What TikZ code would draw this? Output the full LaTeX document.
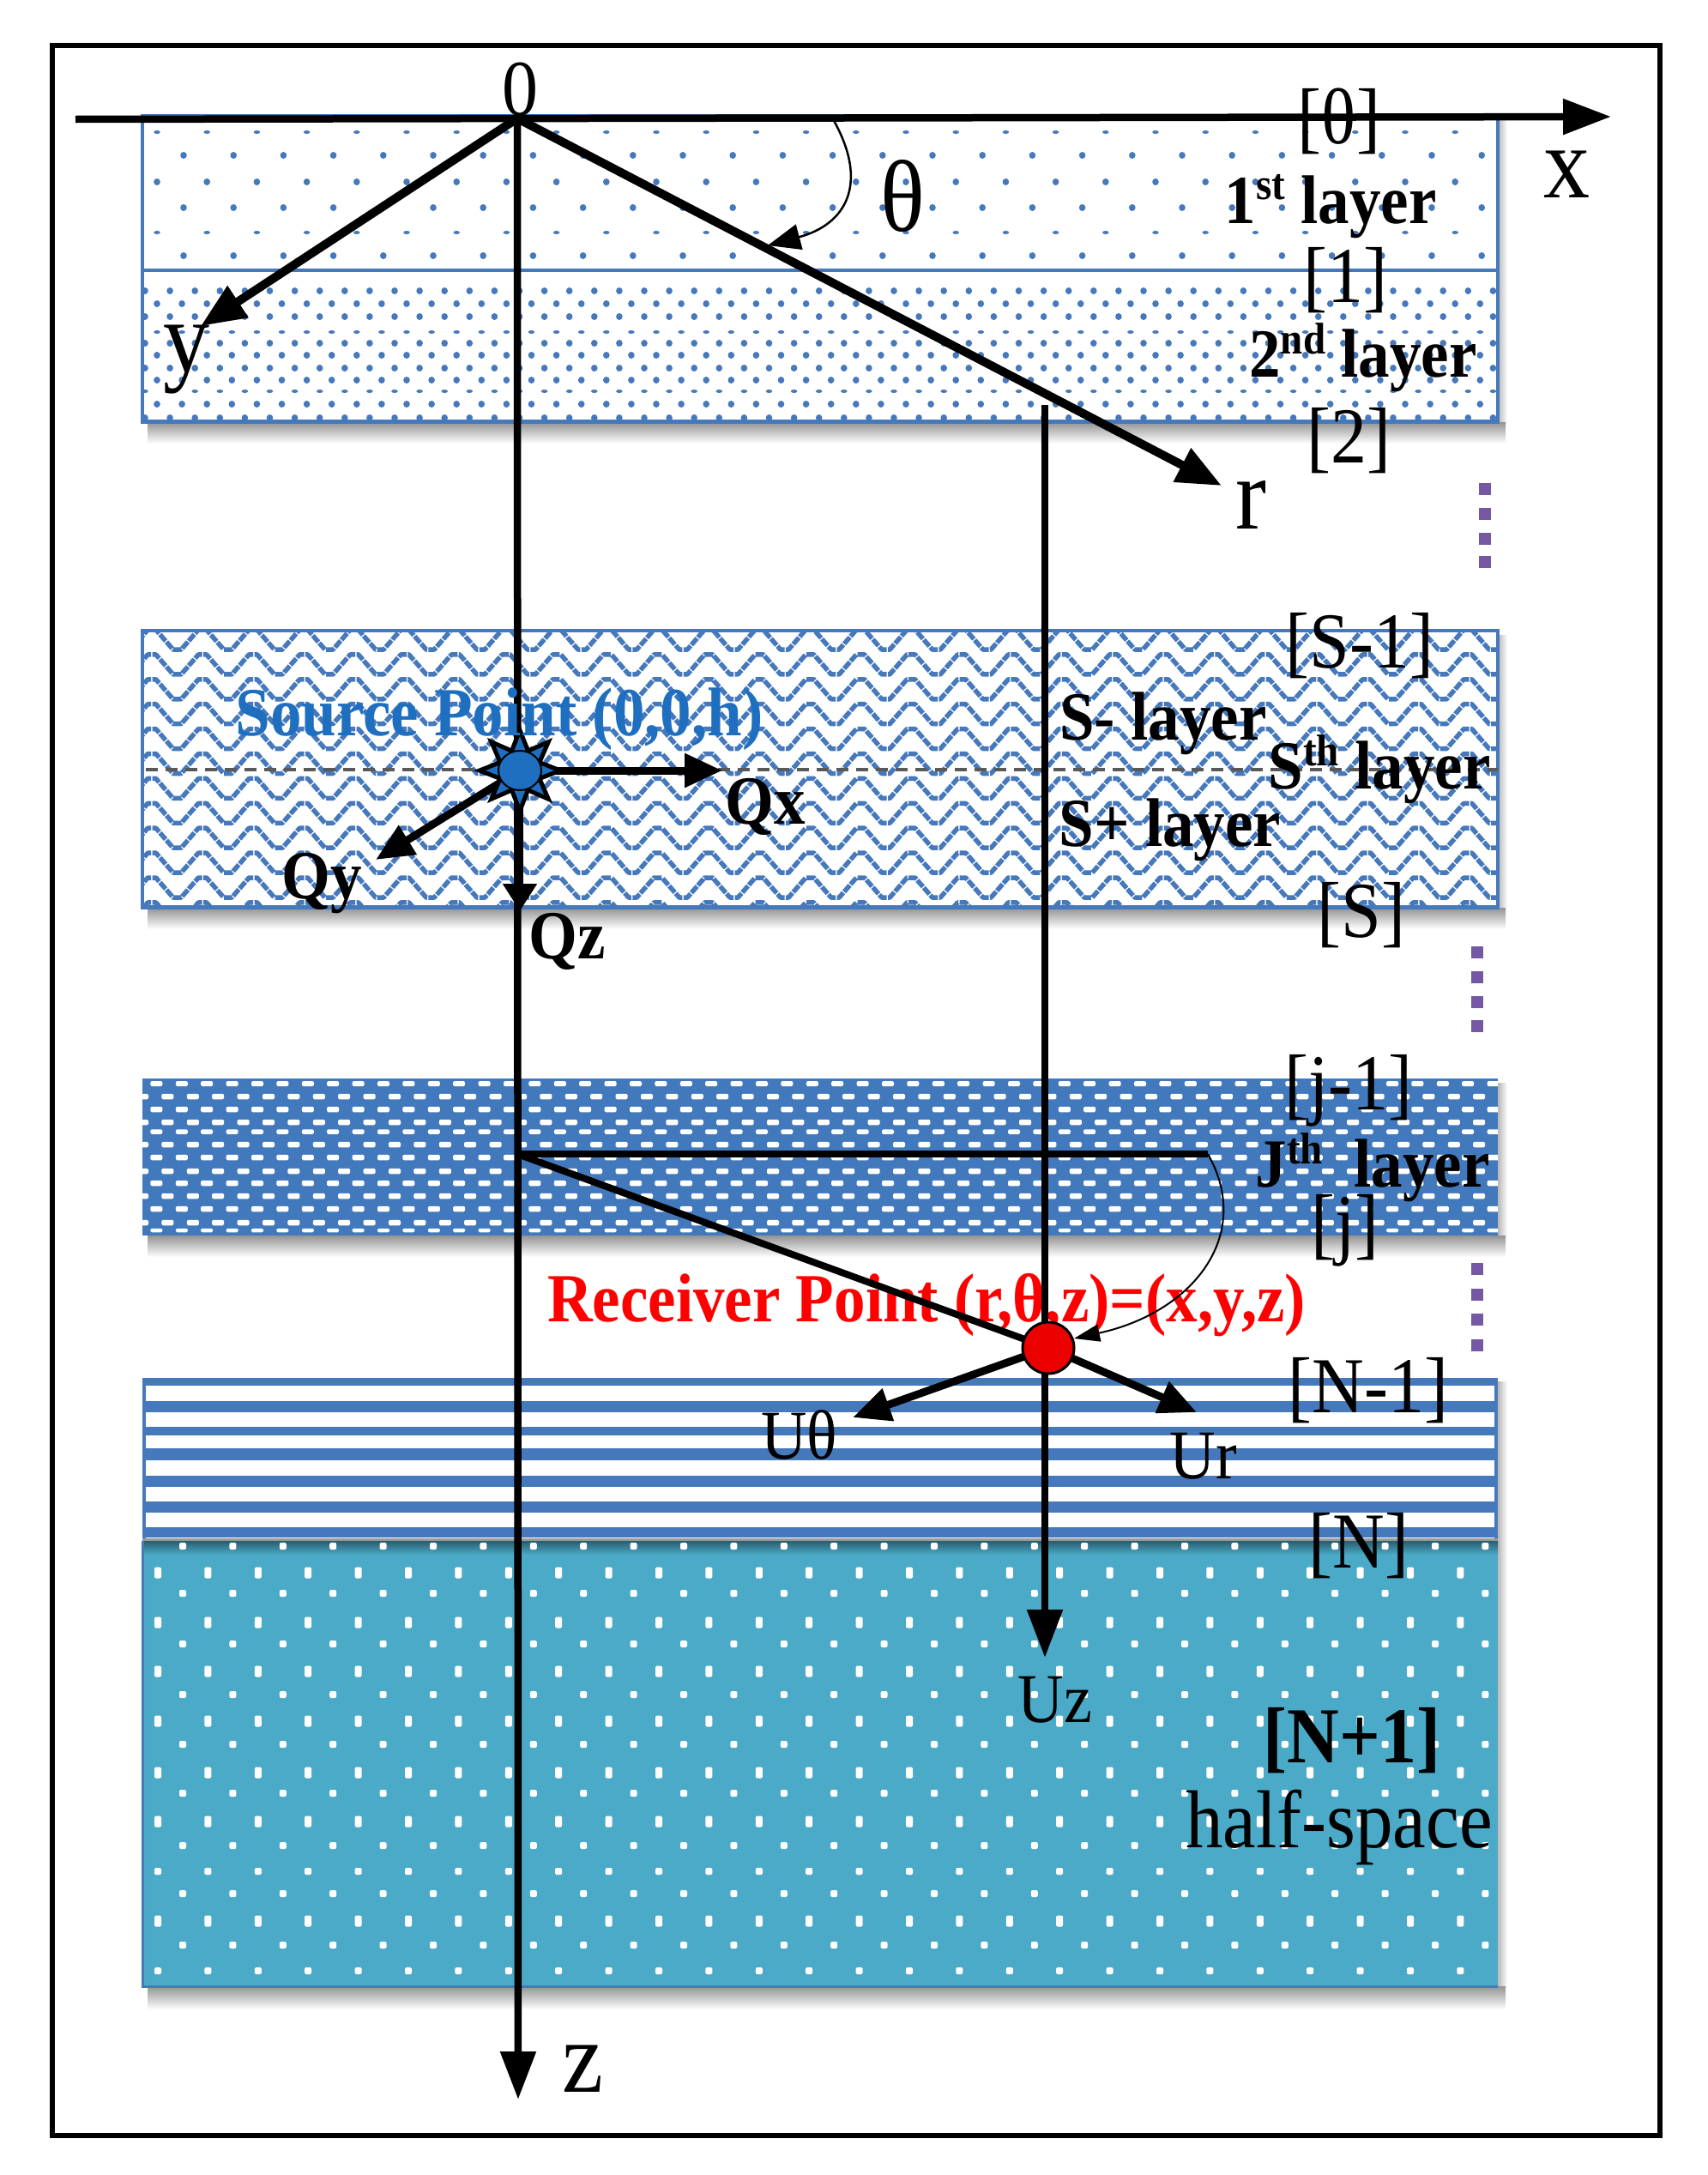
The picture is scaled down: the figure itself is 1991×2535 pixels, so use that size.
\documentclass[tikz,border=0pt]{standalone}
\usepackage{fontspec}
\setmainfont{Liberation Serif}
\usetikzlibrary{arrows.meta,shapes.geometric}
\newcommand\fsz[1]{\fontsize{#1}{#1}\selectfont}
\newcommand\supr[1]{\raisebox{0.34em}{\fontsize{47}{47}\selectfont #1}}
\definecolor{lblue}{HTML}{4679BC}
\definecolor{jblue}{HTML}{4279BD}
\definecolor{hteal}{HTML}{4BAAC7}
\definecolor{srcblue}{HTML}{1F6FC0}
\definecolor{dotpurple}{HTML}{7458A4}
\tikzset{
 layeredge/.style={draw=lblue,line width=3.5pt},
 axisline/.style={line width=8.5pt,draw=black,-{Triangle[length=56pt,width=40pt]}},
 thickarrow/.style={line width=10pt,draw=black,-{Triangle[length=52pt,width=42pt]}},
 forcearrow/.style={line width=9pt,draw=black,-{Triangle[length=44pt,width=38pt]}},
 plainline/.style={line width=8pt,draw=black},
 thinarrow/.style={line width=2.5pt,draw=black,-{Triangle[length=38pt,width=30pt]}},
 smallthinarrow/.style={line width=2pt,draw=black,-{Triangle[length=30pt,width=20pt]}},
 wave/.style={draw=lblue,line width=5.5pt,line join=round,dash pattern=on 10pt off 1.5pt},
 tall/.style={yscale=1.1,transform shape,inner sep=0pt},
 bracket/.style={tall,yshift=-4pt,font=\fsz{84}},
 big/.style={tall,yshift=-6pt,font=\fsz{108}},
 boldlab/.style={tall,yshift=-6pt,font=\fsz{73}\bfseries},
 ulab/.style={tall,yshift=-3pt,font=\fsz{74}},
 pdot/.style={fill=dotpurple},
}
\newcommand\layershadow[2]{%
  \shade[top color=black!42,bottom color=white] (172,#1) rectangle (1755,#2);}
\newcommand\sideshadow[2]{%
  \shade[left color=black!28,right color=white] (1746,#1) rectangle (1757,#2);}
\begin{document}
\begin{tikzpicture}[x=1pt,y=-1pt]
\useasboundingbox (0,0) rectangle (1991,2535);
\fill[white] (0,0) rectangle (1991,2535);
\draw[line width=6pt,black] (61,53) rectangle (1935,2489);

% shadows
\sideshadow{140}{492}
\sideshadow{740}{1058}
\sideshadow{1262}{1440}
\sideshadow{1610}{2315}
\layershadow{492}{517}
\layershadow{1058}{1083}
\layershadow{1440}{1465}
\layershadow{2315}{2342}

% layer 1 and 2
\begin{scope}
\clip (166,135) rectangle (1746,492);
\foreach \yy/\ry/\xo in {154/2/183,181/4/214,212/4/183,242/4/214,271/2/183,298/4/214}{
  \foreach \c in {0,...,26}{\fill[lblue] (\xo+58.2*\c,\yy) ellipse [x radius=3.8,y radius=\ry];}
}
\foreach \yy/\ry/\xo in {339/4/169,354/4/183,369/4/169,387/2/183,400/4/169,414/4/183,429/4/169,443/4/183,456/2/169,471/4/183,487/4/169}{
  \foreach \c in {0,...,54}{\fill[lblue] (\xo+29.1*\c,\yy) ellipse [x radius=3.8,y radius=\ry];}
}
\end{scope}
\draw[layeredge] (166,135) rectangle (1746,492);
\draw[layeredge] (166,315) -- (1746,315);
\draw[lblue,line width=5pt] (166,491) -- (1746,491);

% wave layer
\begin{scope}
\clip (166,735) rectangle (1746,1058);
\foreach \r in {0,...,11}{
  \pgfmathsetmacro\yy{734+28.9*\r}
  \draw[wave] (118,\yy) \foreach \k in {1,...,28}{ -- ++(4.75,0) -- ++(20,23) -- ++(9.5,0) -- ++(20,-23) -- ++(4.75,0)};
}
\end{scope}
\draw[layeredge] (166,735) rectangle (1746,1058);
\draw[lblue,line width=5pt] (166,1057) -- (1746,1057);
\draw[black!65,line width=3.5pt,dash pattern=on 14pt off 9pt] (170,897) -- (1746,897);

% J layer
\fill[jblue] (166,1257) rectangle (1746,1440);
\begin{scope}
\clip (166,1257) rectangle (1746,1440);
\foreach \yy/\ht/\xo in {1263/6/153,1278/6.5/166,1293/6.5/153,1308/6.5/166,1319/5.5/153,1334/6.5/166,1349/6.5/153,1365/6.5/166,1379/6.5/153,1394/6.5/166,1409/6.5/153,1425/6.5/166,1434/4.5/153}{
  \foreach \c in {0,...,55}{\fill[white,rounded corners=1.5pt] (\xo+29.4*\c-7,\yy-\ht/2) rectangle ++(14,\ht);}
}
\end{scope}

% striped layer
\fill[white] (166,1606) rectangle (1746,1793);
\foreach \a/\b in {1606/1615,1633/1646,1663/1673,1688/1702,1720/1733,1750/1763,1780/1792}{
  \fill[lblue] (166,\a) rectangle (1746,\b);
}
\fill[lblue] (166,1606) rectangle (170,1793);
\fill[lblue] (1742,1606) rectangle (1746,1793);
\draw[gray!80,line width=3pt] (166,1794) -- (1746,1794);

% half-space
\fill[hteal] (166,1796) rectangle (1746,2315);
\shade[top color=black!45!hteal,bottom color=hteal] (166,1796) rectangle (1746,1812);
\begin{scope}
\clip (166,1796) rectangle (1746,2315);
\foreach \yy/\ry in {1833/6.5,1891/6.5,1948/6.5,2006/6.5,2066/6.5,2123/6.5,2181/4,2239/6.5,2297/4}{
  \foreach \c in {0,...,27}{\fill[white,rounded corners=1.5pt] (184+58.4*\c-4,\yy-\ry) rectangle ++(8,2*\ry);}
}
\foreach \yy in {1802,1857,1916,1975,2033,2090,2151,2207,2267}{
  \foreach \c in {0,...,26}{\fill[white,rounded corners=2pt] (213+58.4*\c-4,\yy-4) rectangle ++(8,8);}
}
\end{scope}
\draw[lblue,line width=3pt] (166,1796) -- (166,2315) -- (1746,2315);

% purple dots
\foreach \px/\py in {1731/570,1731/599,1731/628,1731/655,1722/1110,1722/1139,1722/1168,1722/1196,1722/1479,1722/1509,1722/1538,1722/1568}{
  \fill[pdot] (\px-7,\py-7) rectangle ++(14,14);
}

% coordinates
\coordinate (o) at (603,138);
\coordinate (xs) at (88,139);
\coordinate (xe) at (1878,136);
\coordinate (ye) at (234,380);
\coordinate (ze) at (604,2447);
\coordinate (re) at (1424,566);
\coordinate (vs) at (1218,472);
\coordinate (uz) at (1218,1932);
\coordinate (jl) at (603,1345);
\coordinate (jr) at (1408,1345);
\coordinate (ut) at (994,1652);
\coordinate (ur) at (1395,1646);
\coordinate (qxe) at (842,898);
\coordinate (qye) at (438,1002);
\coordinate (qze) at (606,1062);
\coordinate (ths) at (970,137);
\coordinate (the) at (895,286);

% text under connectors
\node[tall,yshift=-6pt,font=\fsz{73}\bfseries,text=red] (recv) at (1080,1514) {Receiver Point (r,θ,z)=(x,y,z)};

% connectors
\draw[axisline] (xs) -- (xe);
\draw[axisline] (o) -- (ze);
\draw[thickarrow] (o) -- (ye);
\draw[thickarrow] (o) -- (re);
\draw[axisline] (vs) -- (uz);
\draw[plainline] (jl) -- (jr);
\coordinate (rc) at (1222,1571);
\draw[plainline] (jl) -- (rc);
\draw[forcearrow] (rc) -- (ut);
\draw[forcearrow] (rc) -- (ur);
\draw[thinarrow] (ths) .. controls (1015,215) and (985,262) .. (the);
\coordinate (rcv) at (1252,1560);
\draw[smallthinarrow] (jr) .. controls (1462,1440) and (1390,1530) .. (rcv);

% source
\coordinate (sc) at (606,898);
\draw[forcearrow] (sc) -- (qxe);
\draw[forcearrow] (sc) -- (qye);
\draw[axisline,-{Triangle[length=32pt,width=38pt]}] (sc) -- (qze);
\node[star,star points=8,star point ratio=1.9,minimum size=94pt,inner sep=0pt,fill=srcblue,draw=black,line width=5pt] (srcstar) at (sc) {};
\node[ellipse,minimum width=50pt,minimum height=46pt,inner sep=0pt,fill=srcblue,draw=black,line width=2pt] (src) at (sc) {};
\node[ellipse,minimum width=60pt,minimum height=60pt,inner sep=0pt,fill=red!92!black,draw=black,line width=3pt] (rcvpt) at (rc) {};

% labels
\node[tall,yshift=-4pt,font=\fsz{84}] (lo) at (606,100) {0};
\node[bracket] (l0) at (1561,137) {[θ]};
\node[big] (lx) at (1826,197) {x};
\node[big] (lth) at (1052,222) {θ};
\node[boldlab] (l1st) at (1551,234) {1\supr{st} layer};
\node[bracket] (l1) at (1568,322) {[1]};
\node[boldlab] (l2nd) at (1589,410) {2\supr{nd} layer};
\node[bracket] (l2) at (1572,509) {[2]};
\node[big] (ly) at (217,412) {y};
\node[big] (lr) at (1458,582) {r};
\node[bracket] (ls1) at (1585,748) {[S-1]};
\node[tall,yshift=-6pt,font=\fsz{73}\bfseries,text=srcblue] (lsrc) at (582,832) {Source Point (0,0,h)};
\node[boldlab] (lsm) at (1356,837) {S- layer};
\node[boldlab] (lsth) at (1608,890) {S\supr{th} layer};
\node[boldlab] (lsp) at (1364,961) {S+ layer};
\node[boldlab] (lqx) at (892,934) {Qx};
\node[boldlab] (lqy) at (375,1023) {Qy};
\node[boldlab] (lqz) at (661,1091) {Qz};
\node[bracket] (ls) at (1587,1062) {[S]};
\node[bracket] (lj1) at (1572,1267) {[j-1]};
\node[boldlab] (ljth) at (1600,1354) {J\supr{th}~ layer};
\node[bracket] (lj) at (1568,1430) {[j]};
\node[bracket] (ln1) at (1595,1616) {[N-1]};
\node[ulab] (lut) at (932,1669) {Uθ};
\node[ulab] (lur) at (1403,1694) {Ur};
\node[bracket] (ln) at (1584,1797) {[N]};
\node[ulab] (luz) at (1230,1978) {Uz};
\node[tall,yshift=-5pt,font=\fsz{84}\bfseries] (lnp) at (1576,2023) {[N+1]};
\node[tall,yshift=-6pt,font=\fsz{87}] (lhs) at (1561,2123) {half-space};
\node[big] (lz) at (679,2405) {z};
\end{tikzpicture}
\end{document}
